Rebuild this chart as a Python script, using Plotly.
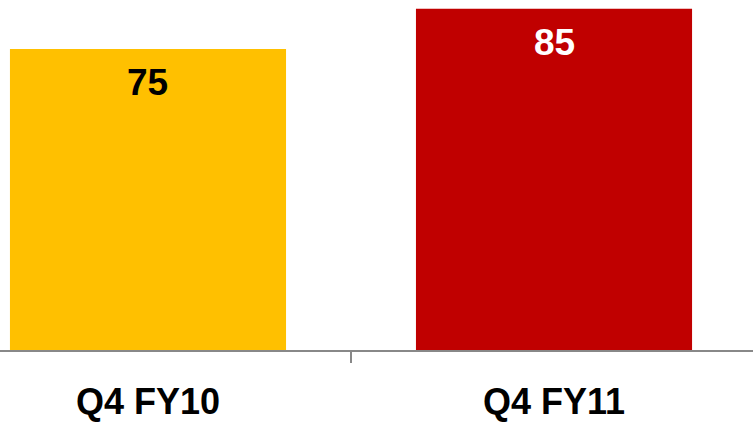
import plotly.graph_objects as go

# Quarterly values
categories = ["Q4 FY10", "Q4 FY11"]
values = [75, 85]
bar_colors = ["#FFC000", "#C00000"]
label_colors = ["#000000", "#FFFFFF"]

FONT = "Arial, Liberation Sans, sans-serif"

fig = go.Figure(
    go.Bar(
        x=categories,
        y=values,
        marker=dict(color=bar_colors, line=dict(width=0)),
        width=0.68,
        hoverinfo="skip",
    )
)

# value labels placed just inside the top of each bar
for cat, val, col in zip(categories, values, label_colors):
    fig.add_annotation(
        x=cat, y=val, text=f"<b>{val}</b>",
        showarrow=False, yanchor="middle", yshift=-34,
        font=dict(family=FONT, size=37, color=col),
    )

fig.update_layout(
    width=753, height=422,
    margin=dict(l=0, r=0, t=0, b=72, autoexpand=False),
    paper_bgcolor="white", plot_bgcolor="white",
    showlegend=False,
    font=dict(family=FONT),
    xaxis=dict(
        type="category",
        range=[-0.3645, 1.4901],
        automargin=False,
        showline=True, linecolor="#888888", linewidth=2,
        ticks="outside", tickson="boundaries", ticklen=11,
        tickcolor="#888888", tickwidth=2,
        tickfont=dict(family=FONT, size=36, color="#000000"),
        ticklabelstandoff=19,
        showgrid=False, zeroline=False,
    ),
    yaxis=dict(
        range=[0, 87.2], visible=False, showgrid=False, zeroline=False,
        automargin=False,
    ),
)

# bold category labels
fig.update_xaxes(
    tickvals=categories,
    ticktext=[f"<b>{c}</b>" for c in categories],
)

fig.write_html("out.html")
